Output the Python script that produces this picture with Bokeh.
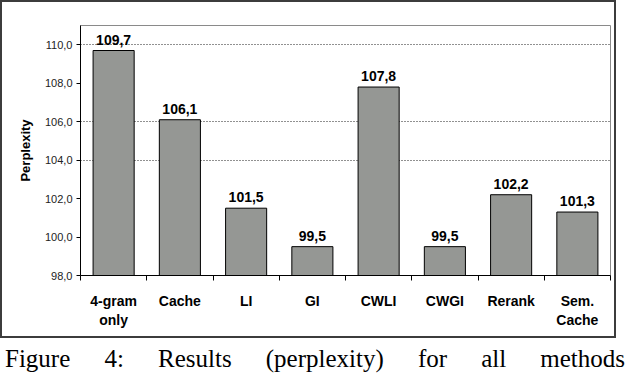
import numpy as np
from bokeh.plotting import figure
from bokeh.models import FixedTicker, Range1d, Div, ColumnDataSource
from bokeh.layouts import column
from bokeh.core.properties import value
from bokeh.embed import file_html
from bokeh.resources import INLINE

# ---- data ----
categories = ["4-gram\nonly", "Cache", "LI", "GI", "CWLI", "CWGI", "Rerank", "Sem.\nCache"]
perplexity = [109.7, 106.1, 101.5, 99.5, 107.8, 99.5, 102.2, 101.3]
y_ticks = [98, 100, 102, 104, 106, 108, 110]
y_tick_labels = ["98,0", "100,0", "102,0", "104,0", "106,0", "108,0", "110,0"]
grid_ticks = [104, 106, 110]
y_min, y_max = 98, 111
caption = "Figure 4: Results (perplexity) for all methods"

n = len(categories)
pos = np.arange(n) + 0.5
bar_labels = [f"{v:.1f}".replace(".", ",") for v in perplexity]
src = ColumnDataSource(dict(x=pos, top=perplexity, lab=bar_labels))

FONT = "Liberation Sans"

p = figure(width=616, height=338, output_backend="svg", toolbar_location=None,
           x_range=Range1d(0, n), y_range=Range1d(y_min, y_max),
           min_border_left=78, min_border_right=8, min_border_top=23, min_border_bottom=65)
p.styles = {"border": "2px solid #3c3c3c"}
p.background_fill_color = "white"
p.border_fill_color = "white"
p.outline_line_color = "#8a8a8a"
p.outline_line_width = 1

p.vbar(x="x", top="top", bottom=y_min, width=0.62, source=src,
       fill_color="#959794", line_color="black", line_width=1)
p.text(x="x", y="top", text="lab", source=src, y_offset=-11,
       text_align="center", text_baseline="alphabetic",
       text_font=value(FONT), text_font_size="14px", text_font_style="bold",
       text_color="black")

# x axis: labels at centres, tick marks at category boundaries
xt = FixedTicker(ticks=list(pos), minor_ticks=list(np.arange(n + 1)))
p.xaxis.ticker = xt
p.xaxis.major_label_overrides = {float(x): c for x, c in zip(pos, categories)}
p.xaxis.major_tick_out = 0
p.xaxis.major_tick_in = 0
p.xaxis.minor_tick_out = 5
p.xaxis.minor_tick_in = 0
p.xaxis.minor_tick_line_color = "black"
p.xaxis.axis_line_color = "black"
p.xaxis.major_label_text_font = FONT
p.xaxis.major_label_text_font_size = "14px"
p.xaxis.major_label_text_font_style = "bold"
p.xaxis.major_label_text_color = "black"
p.xaxis.major_label_standoff = 12

# y axis
p.yaxis.ticker = FixedTicker(ticks=y_ticks, minor_ticks=[])
p.yaxis.major_label_overrides = {t: l for t, l in zip(y_ticks, y_tick_labels)}
p.yaxis.major_tick_out = 4
p.yaxis.major_tick_in = 0
p.yaxis.major_tick_line_color = "black"
p.yaxis.axis_line_color = "black"
p.yaxis.major_label_text_font = FONT
p.yaxis.major_label_text_font_size = "11px"
p.yaxis.major_label_text_color = "#222222"
p.yaxis.major_label_standoff = 4
p.yaxis.axis_label = "Perplexity"
p.yaxis.axis_label_text_font = FONT
p.yaxis.axis_label_text_font_size = "13px"
p.yaxis.axis_label_text_font_style = "bold"
p.yaxis.axis_label_text_color = "black"
p.yaxis.axis_label_standoff = 9

p.xgrid.grid_line_color = None
p.ygrid.ticker = FixedTicker(ticks=grid_ticks)
p.ygrid.grid_line_color = "#222222"
p.ygrid.grid_line_dash = "1 2"
p.ygrid.grid_line_width = 1

words = "".join(f"<span>{w}</span>" for w in caption.split())
cap_html = ('<div style="display:flex;justify-content:space-between;width:620px;'
            'font-family:\'Liberation Serif\';font-size:25px;line-height:1;color:black;'
            'padding-top:3px;">' + words + '</div>')
cap = Div(text=cap_html, width=620, height=22)

layout = column(p, cap, spacing=0)
open("out.html", "w").write(file_html(layout, INLINE))
